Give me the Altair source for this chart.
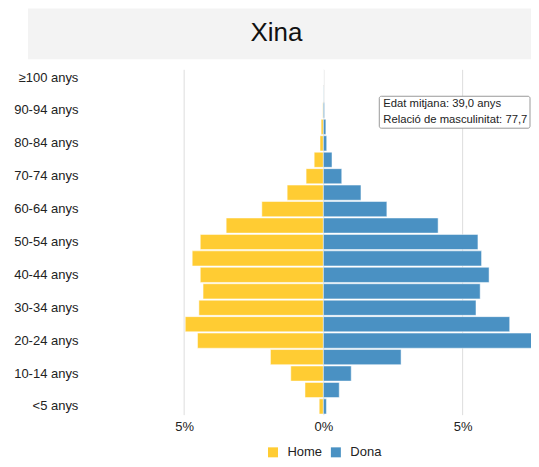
import altair as alt
import pandas as pd

FONT = "Liberation Sans"

ages = ["<5 anys", "5-9 anys", "10-14 anys", "15-19 anys", "20-24 anys",
        "25-29 anys", "30-34 anys", "35-39 anys", "40-44 anys", "45-49 anys",
        "50-54 anys", "55-59 anys", "60-64 anys", "65-69 anys", "70-74 anys",
        "75-79 anys", "80-84 anys", "85-89 anys", "90-94 anys", "95-99 anys",
        "≥100 anys"]
home = [0.15, 0.66, 1.17, 1.90, 4.52, 4.96, 4.47, 4.32, 4.42, 4.71,
        4.42, 3.49, 2.21, 1.30, 0.62, 0.33, 0.12, 0.08, 0.02, 0.006, 0.001]
dona = [0.11, 0.57, 1.00, 2.79, 7.90, 6.69, 5.48, 5.63, 5.95, 5.68,
        5.55, 4.12, 2.28, 1.35, 0.66, 0.31, 0.12, 0.09, 0.04, 0.012, 0.002]
sexes = ["Home", "Dona"]
colors = ["#ffcc33", "#4a91c3"]
title_text = "Xina"
notes = ["Edat mitjana: 39,0 anys", "Relació de masculinitat: 77,7"]
x_ticks = [-5, 0, 5]
x_domain = [-7.74, 7.455]

rows = []
for a, h, d in zip(ages, home, dona):
    rows.append({"age": a, "sex": "Home", "v": -h})
    rows.append({"age": a, "sex": "Dona", "v": d})
df = pd.DataFrame(rows)

one = pd.DataFrame({"k": [0]})

banner = alt.Chart(one).mark_rect(fill="#f3f3f3", clip=False).encode(
    x=alt.value(-80), x2=alt.value(424), y=alt.value(-61), y2=alt.value(-10)
)
title = alt.Chart(one).mark_text(
    fontSize=26, color="#111111", align="center", baseline="middle"
).encode(
    x=alt.value(169), y=alt.value(-36), text=alt.value(title_text)
)

bars = alt.Chart(df).mark_bar(
    clip=True, stroke="white", strokeWidth=1, strokeOpacity=0.5
).encode(
    x=alt.X("v:Q", scale=alt.Scale(domain=x_domain, nice=False, zero=False),
            axis=alt.Axis(values=x_ticks, labelExpr="abs(datum.value) + '%'",
                          grid=True, gridColor="#dddddd", ticks=False,
                          domain=False, title=None, labelFontSize=13,
                          labelPadding=6, labelColor="#222222")),
    y=alt.Y("age:N", sort=ages[::-1],
            scale=alt.Scale(paddingInner=0.08, paddingOuter=0.04),
            axis=alt.Axis(values=ages[::2], ticks=False, domain=False,
                          title=None, labelFontSize=13, labelPadding=30,
                          labelColor="#222222")),
    color=alt.Color("sex:N", scale=alt.Scale(domain=sexes, range=colors),
                    legend=alt.Legend(orient="none", legendX=159, legendY=377,
                                      direction="horizontal", title=None,
                                      symbolType="square", symbolSize=100,
                                      symbolStrokeWidth=0, labelFontSize=13,
                                      labelColor="#222222", columnPadding=7,
                                      labelOffset=8, padding=0)),
)

note_box = alt.Chart(one).mark_rect(
    fill="white", stroke="#999999", strokeWidth=1, cornerRadius=2
).encode(
    x=alt.value(272), x2=alt.value(423), y=alt.value(27), y2=alt.value(59)
)
note_text = alt.Chart(one).mark_text(
    align="left", baseline="alphabetic", fontSize=11.3, lineHeight=16,
    color="#222222"
).encode(
    x=alt.value(276), y=alt.value(38), text=alt.value(notes)
)

chart = alt.layer(banner, title, bars, note_box, note_text).properties(
    width=424, height=346,
    padding={"left": 5, "top": 0, "right": 0, "bottom": 0}
).configure(font=FONT).configure_view(stroke="transparent")

chart.save("out.html", embed_options={"renderer": "svg", "actions": False})
